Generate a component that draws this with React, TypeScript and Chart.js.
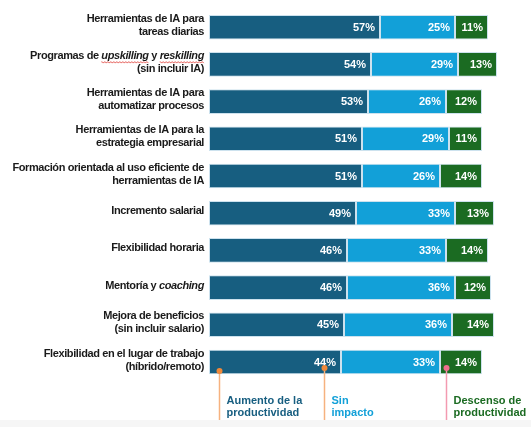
import { useEffect, useRef } from "react";
import { Chart, registerables } from "chart.js";

Chart.register(...registerables);

const W = 531;
const H = 427;

// Category labels (lines; *text* = italic)
const categories: string[][] = [
  ["Herramientas de IA para", "tareas diarias"],
  ["Programas de *upskilling* y *reskilling*", "(sin incluir IA)"],
  ["Herramientas de IA para", "automatizar procesos"],
  ["Herramientas de IA para la", "estrategia empresarial"],
  ["Formación orientada al uso eficiente de", "herramientas de IA"],
  ["Incremento salarial"],
  ["Flexibilidad horaria"],
  ["Mentoría y *coaching*"],
  ["Mejora de beneficios", "(sin incluir salario)"],
  ["Flexibilidad en el lugar de trabajo", "(híbrido/remoto)"],
];
const squiggleWords = ["upskilling", "reskilling"];

const aumento = [57, 54, 53, 51, 51, 49, 46, 46, 45, 44];
const sinImpacto = [25, 29, 26, 29, 26, 33, 33, 36, 36, 33];
const descenso = [11, 13, 12, 11, 14, 13, 14, 12, 14, 14];

const seriesNames = ["Aumento de la productividad", "Sin impacto", "Descenso de productividad"];
const legendLines = [
  ["Aumento de la", "productividad"],
  ["Sin", "impacto"],
  ["Descenso de", "productividad"],
];

const DARK = "#175E80";
const LIGHT = "#12A0D8";
const GREEN = "#1B6B22";
const colors = [DARK, LIGHT, GREEN];
const markerXs = [3.3, 38.3, 79];
const markerDy = [9, 6, 6];
const markerDot = ["#F0893A", "#F0893A", "#EE6E8E"];
const markerLine = ["#F6B27F", "#F6B27F", "#F39AB0"];

const FONT = "'Liberation Sans', Arial, sans-serif";

const drawPlugin = {
  id: "custom",
  beforeDraw(chart: any) {
    const ctx = chart.ctx;
    ctx.save();
    ctx.fillStyle = "#ffffff";
    ctx.fillRect(0, 0, W, H);
    ctx.fillStyle = "#f6f6f6";
    ctx.fillRect(0, 420, W, H - 420);
    ctx.restore();
  },
  afterDatasetsDraw(chart: any) {
    const ctx = chart.ctx as any;
    const yScale = chart.scales.y;
    const xScale = chart.scales.x;
    ctx.save();
    // value labels
    ctx.font = `bold 11px ${FONT}`;
    ctx.fillStyle = "#ffffff";
    ctx.textAlign = "right";
    ctx.textBaseline = "middle";
    chart.data.datasets.forEach((ds: any, di: number) => {
      const meta = chart.getDatasetMeta(di);
      meta.data.forEach((el: any, i: number) => {
        ctx.fillText(ds.data[i] + "%", el.x - 5, el.y + 0.5);
      });
    });

    // category labels
    const rightX = 204;
    ctx.letterSpacing = "-0.4px";
    categories.forEach((lines, i) => {
      const cy = yScale.getPixelForValue(i) - 2;
      lines.forEach((line, li) => {
        const y = cy + (li - (lines.length - 1) / 2) * 13;
        const segs = line.split("*");
        const fonts = segs.map((_, si) => (si % 2 === 1 ? `italic bold 11px ${FONT}` : `bold 11px ${FONT}`));
        let total = 0;
        const widths = segs.map((s, si) => {
          ctx.font = fonts[si];
          const w = ctx.measureText(s).width;
          total += w;
          return w;
        });
        let x = rightX - total;
        ctx.textAlign = "left";
        ctx.textBaseline = "middle";
        segs.forEach((s, si) => {
          ctx.font = fonts[si];
          ctx.fillStyle = "#1a1a1a";
          ctx.fillText(s, x, y);
          if (si % 2 === 1 && squiggleWords.includes(s)) {
            ctx.strokeStyle = "#e0403a";
            ctx.lineWidth = 0.8;
            ctx.beginPath();
            const by = y + 6;
            for (let k = 0; k <= widths[si]; k += 1) {
              const yy = by + (Math.floor(k / 1.5) % 2 === 0 ? 0 : 1.2);
              if (k === 0) ctx.moveTo(x + k, yy);
              else ctx.lineTo(x + k, yy);
            }
            ctx.stroke();
          }
          x += widths[si];
        });
      });
    });
    ctx.letterSpacing = "0px";

    // bottom markers and legend
    const lastY = yScale.getPixelForValue(categories.length - 1);
    markerXs.forEach((v, k) => {
      const px = Math.round(xScale.getPixelForValue(v)) + 0.5;
      const dy = lastY + markerDy[k];
      ctx.strokeStyle = markerLine[k];
      ctx.lineWidth = 1.5;
      ctx.beginPath();
      ctx.moveTo(px, dy);
      ctx.lineTo(px, 420);
      ctx.stroke();
      ctx.fillStyle = markerDot[k];
      ctx.beginPath();
      ctx.arc(px, dy, 3, 0, Math.PI * 2);
      ctx.fill();
      ctx.font = `bold 11px ${FONT}`;
      ctx.fillStyle = colors[k];
      ctx.textAlign = "left";
      ctx.textBaseline = "middle";
      legendLines[k].forEach((t, li) => {
        ctx.fillText(t, px + 7, lastY + 38.5 + li * 12.5);
      });
    });
    ctx.restore();
  },
};

export default function App() {
  const ref = useRef<HTMLCanvasElement>(null);
  useEffect(() => {
    const series = [aumento, sinImpacto, descenso];
    const chart = new Chart(ref.current!, {
      type: "bar",
      data: {
        labels: categories.map((c) => c.join(" ").replace(/\*/g, "")),
        datasets: series.map((d, k) => ({
          label: seriesNames[k],
          data: d,
          backgroundColor: colors[k],
          borderColor: "rgba(205,226,238,1)",
          borderWidth: 1,
          borderSkipped: false,
          barPercentage: 0.66,
          categoryPercentage: 1,
        })),
      },
      options: {
        indexAxis: "y",
        responsive: false,
        animation: false,
        layout: { padding: { left: 209, right: 22, top: 8.6, bottom: 46.4 } },
        scales: {
          x: { stacked: true, min: 0, max: 100, display: false },
          y: { stacked: true, display: false },
        },
        plugins: { legend: { display: false }, tooltip: { enabled: false } },
      },
      plugins: [drawPlugin],
    } as any);
    return () => chart.destroy();
  }, []);
  return (
    <div style={{ position: "absolute", left: 0, top: 0, width: W, height: H }}>
      <canvas ref={ref} width={W} height={H} style={{ width: W, height: H, display: "block" }} />
    </div>
  );
}
